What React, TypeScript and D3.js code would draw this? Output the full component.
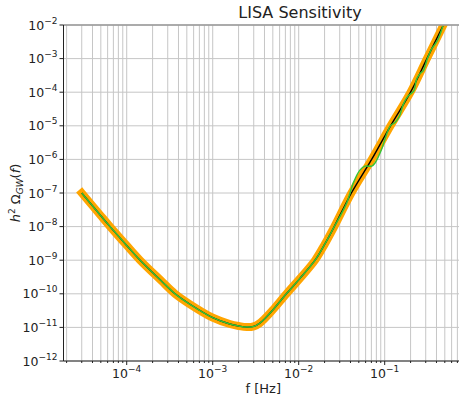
import React from "react";
import * as d3 from "d3";

// shared low-frequency part
const lowFreqs = [3.0e-5, 5.0e-5, 6.4e-5, 1.0e-4, 1.43e-4, 2.5e-4, 3.65e-4, 5.5e-4, 1.0e-3, 1.58e-3, 2.0e-3, 2.5e-3, 3.0e-3, 3.5e-3, 4.0e-3, 5.0e-3, 7.2e-3, 1.0e-2, 1.55e-2, 2.0e-2, 2.53e-2];
const lowOmega = [1.0e-7, 2.1e-8, 1.0e-8, 2.75e-9, 1.0e-9, 2.5e-10, 1.0e-10, 4.8e-11, 1.95e-11, 1.26e-11, 1.1e-11, 1.02e-11, 1.07e-11, 1.32e-11, 1.78e-11, 3.3e-11, 1.0e-10, 2.6e-10, 1.0e-9, 2.95e-9, 8.9e-9];

// smooth (black / orange) high-frequency part
const smoothFreqs = [4.1e-2, 7.05e-2, 0.117, 0.2, 0.31, 0.475];
const smoothOmega = [1.0e-7, 1.0e-6, 1.0e-5, 1.0e-4, 1.0e-3, 9.3e-3];

// green curve high-frequency part (bump + wiggles)
const greenFreqs = [3.61e-2, 4.32e-2, 5.15e-2, 5.9e-2, 7.06e-2, 7.73e-2, 9.2e-2, 0.107, 0.117, 0.132, 0.148, 0.165, 0.188, 0.2, 0.219, 0.235, 0.257, 0.281, 0.316, 0.352, 0.389, 0.42, 0.475];
const greenOmega = [5.0e-8, 2.0e-7, 4.8e-7, 6.3e-7, 6.3e-7, 7.9e-7, 2.0e-6, 6.3e-6, 1.02e-5, 1.26e-5, 1.9e-5, 4.4e-5, 7.8e-5, 8.9e-5, 1.12e-4, 2.45e-4, 3.55e-4, 4.4e-4, 1.05e-3, 1.95e-3, 2.8e-3, 3.9e-3, 9.3e-3];

const xTickExps = [-4, -3, -2, -1];
const yTickExps = [-12, -11, -10, -9, -8, -7, -6, -5, -4, -3, -2];

type Pt = { f: number; v: number };
const zip = (fs: number[], vs: number[]): Pt[] => fs.map((f, i) => ({ f, v: vs[i] }));

const W = 459;
const H = 395;
const left = 63.5;
const right = 463;
const top = 25;
const bottom = 361;
const font = "DejaVu Sans, sans-serif";

export default function App() {
  const x = d3.scaleLog().domain([Math.pow(10, -4.735), Math.pow(10, -0.0895)]).range([left, right]);
  const y = d3.scaleLog().domain([1e-12, 1e-2]).range([bottom, top]);

  const smooth = [...zip(lowFreqs, lowOmega), ...zip(smoothFreqs, smoothOmega)];
  const green = [...zip(lowFreqs, lowOmega), ...zip(greenFreqs, greenOmega)];

  const line = d3
    .line<Pt>()
    .x((d) => x(d.f))
    .y((d) => y(d.v))
    .curve(d3.curveCatmullRom.alpha(0.5));

  // minor x ticks 2..9 per decade inside the domain
  const [d0, d1] = x.domain();
  const minorX: number[] = [];
  for (let e = -5; e <= 0; e++) {
    for (let k = 2; k <= 9; k++) {
      const v = k * Math.pow(10, e);
      if (v >= d0 && v <= d1) minorX.push(v);
    }
  }

  const grid = "#c6c6c6";

  return (
    <svg width={W} height={H} style={{ position: "absolute", left: 0, top: 0 }} fontFamily={font}>
      <rect width={W} height={H} fill="#fff" />
      <defs>
        <clipPath id="plot">
          <rect x={left} y={top} width={right - left} height={bottom - top} />
        </clipPath>
      </defs>

      {/* grid */}
      <g stroke={grid} strokeWidth={1}>
        {minorX.map((v) => (
          <line key={"mx" + v} x1={x(v)} x2={x(v)} y1={top} y2={bottom} />
        ))}
        {xTickExps.map((e) => (
          <line key={"gx" + e} x1={x(Math.pow(10, e))} x2={x(Math.pow(10, e))} y1={top} y2={bottom} />
        ))}
        {yTickExps.map((e) => (
          <line key={"gy" + e} x1={left} x2={right} y1={y(Math.pow(10, e))} y2={y(Math.pow(10, e))} />
        ))}
      </g>

      {/* curves */}
      <g clipPath="url(#plot)" fill="none">
        <path d={line(smooth) ?? ""} stroke="#ffa500" strokeWidth={8} strokeLinecap="square" strokeLinejoin="round" />
        <path d={line(smooth) ?? ""} stroke="#000" strokeWidth={1.4} />
        <path d={line(green) ?? ""} stroke="#36c236" strokeWidth={1.5} />
      </g>

      {/* spines */}
      <line x1={left} x2={right} y1={top} y2={top} stroke="#999" strokeWidth={1.5} />
      <line x1={left} x2={right} y1={bottom} y2={bottom} stroke="#222" strokeWidth={1} />
      <line x1={left} x2={left} y1={top} y2={bottom} stroke="#222" strokeWidth={1} />

      {/* y ticks */}
      {yTickExps.map((e) => {
        const yy = y(Math.pow(10, e));
        return (
          <g key={"yt" + e}>
            <line x1={left - 4} x2={left} y1={yy} y2={yy} stroke="#222" />
            <text x={left - 6} y={yy + 4.5} textAnchor="end" fontSize={12.5} fill="#222">
              10
              <tspan dy={-6} fontSize={9}>
                {"\u2212" + Math.abs(e)}
              </tspan>
            </text>
          </g>
        );
      })}

      {/* x ticks */}
      {minorX.map((v) => (
        <line key={"mt" + v} x1={x(v)} x2={x(v)} y1={bottom} y2={bottom + 2} stroke="#222" />
      ))}
      {xTickExps.map((e) => {
        const xx = x(Math.pow(10, e));
        return (
          <g key={"xt" + e}>
            <line x1={xx} x2={xx} y1={bottom} y2={bottom + 4} stroke="#222" />
            <text x={xx} y={bottom + 17} textAnchor="middle" fontSize={12.5} fill="#222">
              10
              <tspan dy={-6} fontSize={9}>
                {"\u2212" + Math.abs(e)}
              </tspan>
            </text>
          </g>
        );
      })}

      {/* labels */}
      <text x={300} y={18} textAnchor="middle" fontSize={16} fill="#222">
        LISA Sensitivity
      </text>
      <text x={(left + right) / 2} y={393} textAnchor="middle" fontSize={13} fill="#222">
        f [Hz]
      </text>
      <text transform={`translate(20,${(top + bottom) / 2}) rotate(-90)`} textAnchor="middle" fontSize={13} fill="#222">
        <tspan fontStyle="italic">h</tspan>
        <tspan dy={-5} fontSize={9}>2</tspan>
        <tspan dy={5}>{" \u03A9"}</tspan>
        <tspan dy={3} fontSize={9} fontStyle="italic">GW</tspan>
        <tspan dy={-3}>(</tspan>
        <tspan fontStyle="italic">f</tspan>
        <tspan>)</tspan>
      </text>
    </svg>
  );
}
